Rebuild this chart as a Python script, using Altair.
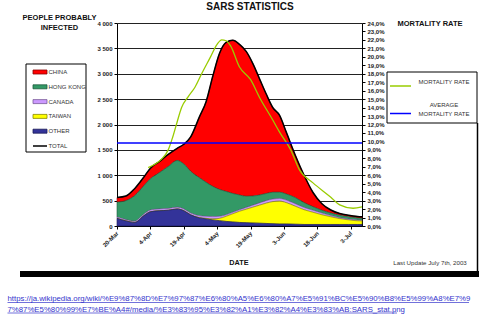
import altair as alt
import pandas as pd

# ---------------- data ----------------
dates = ["2003-03-20", "2003-03-24", "2003-03-28", "2003-04-01", "2003-04-04", "2003-04-08",
         "2003-04-12", "2003-04-16", "2003-04-19", "2003-04-22", "2003-04-26", "2003-04-29",
         "2003-05-02", "2003-05-05", "2003-05-08", "2003-05-11", "2003-05-14", "2003-05-17",
         "2003-05-20", "2003-05-23", "2003-05-26", "2003-05-29", "2003-06-01", "2003-06-04",
         "2003-06-08", "2003-06-12", "2003-06-16", "2003-06-20", "2003-06-24", "2003-06-28",
         "2003-07-02", "2003-07-06", "2003-07-08"]
other = [150, 100, 70, 200, 280, 300, 310, 335, 300, 220, 160, 140, 120, 105, 90, 80, 70, 65,
         60, 55, 50, 45, 40, 40, 35, 30, 30, 30, 30, 30, 30, 30, 30]
taiwan = [0, 0, 0, 0, 0, 0, 0, 0, 0, 0, 5, 10, 20, 45, 100, 160, 220, 265,
          310, 355, 400, 435, 450, 420, 355, 290, 240, 190, 150, 115, 90, 72, 70]
canada = [25, 25, 25, 30, 35, 35, 35, 35, 35, 35, 35, 40, 45, 40, 30, 30, 30, 35,
          40, 45, 50, 50, 50, 50, 50, 45, 40, 35, 25, 20, 18, 16, 15]
hong_kong = [295, 375, 505, 560, 615, 715, 825, 920, 885, 825, 750, 670, 595, 530, 460, 370, 290, 220,
             180, 155, 140, 135, 125, 120, 120, 95, 70, 55, 50, 45, 42, 40, 37]
china = [90, 90, 140, 170, 210, 220, 240, 240, 390, 670, 1200, 1590, 2170, 2680, 2940, 3020, 2970, 2855,
         2610, 2290, 1960, 1665, 1515, 1220, 840, 540, 280, 130, 60, 35, 30, 29, 28]

mort_dates = ["2003-04-03", "2003-04-06", "2003-04-09", "2003-04-12", "2003-04-14", "2003-04-16",
              "2003-04-18", "2003-04-21", "2003-04-24", "2003-04-27", "2003-05-01", "2003-05-04",
              "2003-05-06", "2003-05-08", "2003-05-10", "2003-05-14", "2003-05-19", "2003-05-23",
              "2003-05-29", "2003-06-01", "2003-06-06", "2003-06-10", "2003-06-16", "2003-06-24",
              "2003-06-28", "2003-07-04", "2003-07-08"]
mort_rate = [6.9, 7.3, 7.9, 9.0, 10.5, 12.3, 14.0, 15.3, 16.4, 18.0, 20.0, 21.5,
             22.0, 21.9, 21.3, 18.8, 17.3, 15.2, 12.5, 11.1, 9.0, 6.6, 5.1, 3.4,
             2.5, 2.1, 2.25]
avg_mortality = 9.8

series_names = ["CHINA", "HONG KONG", "CANADA", "TAIWAN", "OTHER"]
series_values = [china, hong_kong, canada, taiwan, other]
series_fill = ["#ff0000", "#339966", "#cc99ff", "#ffff00", "#333399"]
series_stroke = ["#880000", "#1d5a3c", "#7a5a99", "#888800", "#1a1a55"]
stack_rank = [4, 3, 2, 1, 0]  # OTHER at the bottom

x_tick_dates = [(3, 20), (4, 4), (4, 19), (5, 4), (5, 19), (6, 3), (6, 18), (7, 3)]
left_ticks = [0, 500, 1000, 1500, 2000, 2500, 3000, 3500, 4000]
right_ticks = list(range(0, 25))

# ---------------- tables ----------------
rows = []
for name, vals, rank in zip(series_names, series_values, stack_rank):
    for d, v in zip(dates, vals):
        rows.append({"date": d, "series": name, "value": v, "rank": rank})
df = pd.DataFrame(rows)
total_df = pd.DataFrame({"date": dates,
                         "total": [sum(t) for t in zip(*series_values)]})
mort_df = pd.DataFrame({"date": mort_dates, "rate": mort_rate})
avg_df = pd.DataFrame({"rate": [avg_mortality]})
one = pd.DataFrame({"a": [0]})

FONT = "Liberation Sans"
OX, OY = 117, 23          # plot-area origin in page pixels
W, H = 245, 203

x_scale = alt.Scale(domain=[alt.DateTime(year=2003, month=3, date=20),
                            alt.DateTime(year=2003, month=7, date=8)])
x_axis = alt.Axis(values=[alt.DateTime(year=2003, month=m, date=d) for m, d in x_tick_dates],
                  format="%-d-%b", labelAngle=315, labelAlign="right", labelBaseline="middle",
                  labelFont=FONT, labelFontSize=6, labelFontWeight="bold", labelColor="#222",
                  labelPadding=3, tickSize=3, tickColor="#000", domainColor="#000",
                  grid=False, title=None, labelOverlap=False)
left_axis = alt.Axis(values=left_ticks, title=None, grid=True, gridColor="#222", gridWidth=1,
                     domainColor="#000", tickColor="#000", tickSize=3,
                     labelFont=FONT, labelFontSize=6, labelFontWeight="bold", labelColor="#222",
                     labelPadding=2, labelExpr="replace(format(datum.value, ','), ',', ' ')")
right_axis = alt.Axis(orient="right", values=right_ticks, title=None, grid=False,
                      domainColor="#000", tickColor="#000", tickSize=3,
                      labelFont=FONT, labelFontSize=6, labelFontWeight="bold", labelColor="#222",
                      labelPadding=2, labelOverlap=False,
                      labelExpr="replace(format(datum.value, '.1f'), '.', ',') + '%'")

areas = alt.Chart(df).mark_area(interpolate="monotone", strokeWidth=0.6).encode(
    x=alt.X("date:T", scale=x_scale, axis=x_axis),
    y=alt.Y("value:Q", stack="zero", scale=alt.Scale(domain=[0, 4000]), axis=left_axis),
    fill=alt.Fill("series:N", scale=alt.Scale(domain=series_names, range=series_fill), legend=None),
    stroke=alt.Stroke("series:N", scale=alt.Scale(domain=series_names, range=series_stroke), legend=None),
    order=alt.Order("rank:Q", sort="ascending"),
)
total_line = alt.Chart(total_df).mark_line(interpolate="monotone", color="#000", strokeWidth=1.5).encode(
    x=alt.X("date:T", scale=x_scale, axis=x_axis),
    y=alt.Y("total:Q", scale=alt.Scale(domain=[0, 4000]), axis=left_axis),
)
left_layer = alt.layer(areas, total_line)

mort_line = alt.Chart(mort_df).mark_line(interpolate="monotone", color="#99cc00", strokeWidth=1.3).encode(
    x=alt.X("date:T", scale=x_scale, axis=x_axis),
    y=alt.Y("rate:Q", scale=alt.Scale(domain=[0, 24]), axis=right_axis),
)
avg_line = alt.Chart(avg_df).mark_rule(color="#0000ff", strokeWidth=1.5).encode(
    y=alt.Y("rate:Q", scale=alt.Scale(domain=[0, 24]), axis=right_axis),
)
right_layer = alt.layer(mort_line, avg_line)

# ---------------- annotations ----------------
def px(x):
    return x - OX

def py(y):
    return y - OY

def text(s, x, y, size, weight="normal", align="center", color="#111", baseline="alphabetic"):
    return alt.Chart(one).mark_text(text=s, font=FONT, fontSize=size, fontWeight=weight,
                                    align=align, baseline=baseline, color=color).encode(
        x=alt.value(px(x)), y=alt.value(py(y)))

def rect(x1, x2, y1, y2, fill, stroke=None, sw=1):
    kw = dict(fill=fill, strokeWidth=sw)
    if stroke is not None:
        kw["stroke"] = stroke
    return alt.Chart(one).mark_rect(**kw).encode(
        x=alt.value(px(x1)), x2=alt.value(px(x2)), y=alt.value(py(y1)), y2=alt.value(py(y2)))

def hline(x1, x2, y, color, sw=1.0):
    return alt.Chart(one).mark_rule(color=color, strokeWidth=sw).encode(
        x=alt.value(px(x1)), x2=alt.value(px(x2)), y=alt.value(py(y)))

def vline(x, y1, y2, color, sw=1.0):
    return alt.Chart(one).mark_rule(color=color, strokeWidth=sw).encode(
        x=alt.value(px(x)), y=alt.value(py(y1)), y2=alt.value(py(y2)))

ann = []
ann.append(text("SARS STATISTICS", 250, 10, 10, "bold"))
ann.append(text("PEOPLE PROBABLY", 59.5, 19.5, 7.5, "bold"))
ann.append(text("INFECTED", 59.5, 29.5, 7.5, "bold"))
ann.append(text("MORTALITY RATE", 430, 25.5, 7.5, "bold"))
ann.append(text("DATE", 239, 264.5, 7.3, "bold"))
ann.append(text("Last Update July 7th, 2003", 430, 265, 6.2, "normal", color="#333"))

# left legend
ann.append(rect(26, 86, 64, 152, "white", "#000", 1))
leg_names = series_names + ["TOTAL"]
for i, name in enumerate(leg_names):
    yc = 72 + i * 14.8
    if i < len(series_names):
        ann.append(rect(33, 47, yc - 2, yc + 2, series_fill[i], series_stroke[i], 0.8))
    else:
        ann.append(hline(33, 47, yc, "#000", 1.5))
    ann.append(text(name, 48.5, yc, 6, align="left", color="#333", baseline="middle"))

# right legend
ann.append(rect(387, 477, 72, 123, "white", "#000", 1))
ann.append(hline(390, 411, 86, "#99cc00", 1.5))
ann.append(text("MORTALITY RATE", 444, 82, 6, color="#333", baseline="middle"))
ann.append(text("AVERAGE", 444, 105, 6, color="#333", baseline="middle"))
ann.append(text("MORTALITY RATE", 444, 113.5, 6, color="#333", baseline="middle"))
ann.append(hline(390, 411, 113.5, "#0000ff", 1.5))

# frame bits
ann.append(vline(477.5, 123, 277, "#000", 1.5))
ann.append(rect(20, 479, 271, 277, "#000"))

# link
link_line1 = "https://ja.wikipedia.org/wiki/%E9%87%8D%E7%97%87%E6%80%A5%E6%80%A7%E5%91%BC%E5%90%B8%E5%99%A8%E7%9"
link_line2 = "7%87%E5%80%99%E7%BE%A4#/media/%E3%83%95%E3%82%A1%E3%82%A4%E3%83%AB:SARS_stat.png"
LINK = "#3333cc"
ann.append(text(link_line1, 7.5, 301, 7.8, align="left", color=LINK))
ann.append(text(link_line2, 7.5, 311.5, 7.8, align="left", color=LINK))
ann.append(hline(7.5, 469, 302.5, LINK, 0.7))
ann.append(hline(7.5, 397, 313, LINK, 0.7))

chart = alt.layer(left_layer, right_layer, *ann).resolve_scale(y="independent").properties(
    width=W, height=H,
    autosize=alt.AutoSizeParams(type="none"),
    padding={"left": OX, "top": OY, "right": 480 - OX - W, "bottom": 320 - OY - H},
    background="white",
).configure_view(stroke=None)

chart.save("out.html", embed_options={"renderer": "svg", "actions": False})
